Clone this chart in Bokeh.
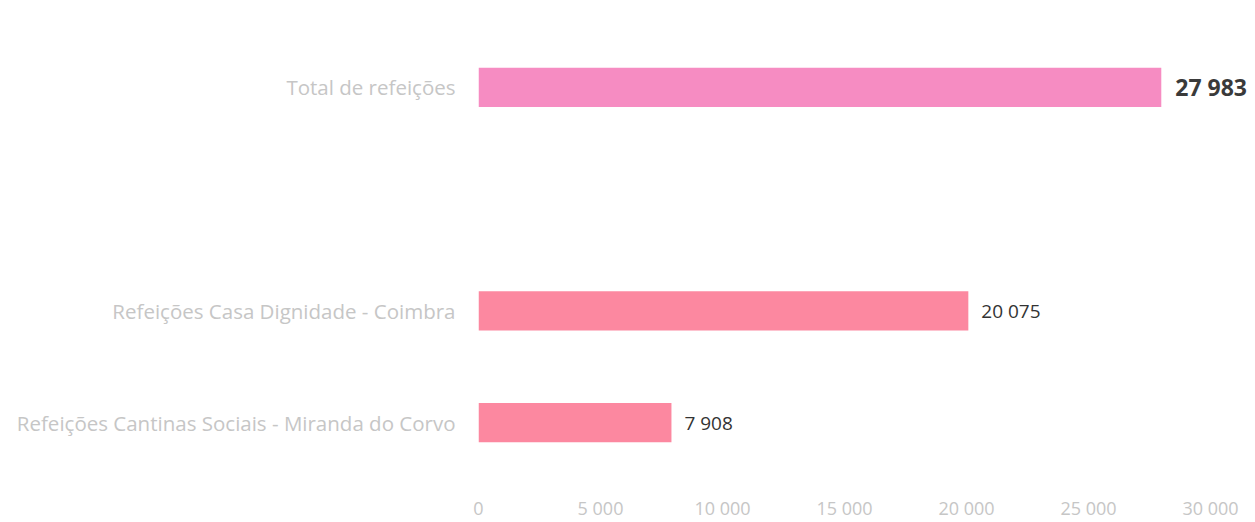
from bokeh.plotting import figure
from bokeh.models import FactorRange, Range1d, FixedTicker, ColumnDataSource
from bokeh.core.properties import value
from bokeh.embed import file_html
from bokeh.resources import INLINE

# data
categories = ["Total de refeições", " ", "Refeições Casa Dignidade - Coimbra",
              "Refeições Cantinas Sociais - Miranda do Corvo"]
bar_categories = ["Total de refeições", "Refeições Casa Dignidade - Coimbra",
                  "Refeições Cantinas Sociais - Miranda do Corvo"]
bar_values = [27983, 20075, 7908]
bar_labels = ["27 983", "20 075", "7 908"]
bar_colors = ["#F68CC2", "#FC88A0", "#FC88A0"]
tick_values = [0, 5000, 10000, 15000, 20000, 25000, 30000]
tick_labels = ["0", "5 000", "10 000", "15 000", "20 000", "25 000", "30 000"]

p = figure(width=1255, height=522, output_backend="svg", toolbar_location=None,
           y_range=FactorRange(factors=list(reversed(categories))),
           x_range=Range1d(0, 31844),
           min_border_left=478, min_border_right=0, min_border_top=31, min_border_bottom=42)
p.outline_line_color = None
p.xgrid.grid_line_color = None
p.ygrid.grid_line_color = None

src = ColumnDataSource(dict(cat=bar_categories, val=bar_values, lab=bar_labels, col=bar_colors))
p.hbar(y="cat", right="val", left=0, height=0.35, fill_color="col", line_color=None, source=src)

total_src = ColumnDataSource(dict(cat=bar_categories[:1], val=bar_values[:1], lab=bar_labels[:1]))
rest_src = ColumnDataSource(dict(cat=bar_categories[1:], val=bar_values[1:], lab=bar_labels[1:]))
p.text(x="val", y="cat", text="lab", source=total_src, x_offset=14,
       text_baseline="middle", text_font=value("Open Sans"), text_font_size="23px",
       text_font_style="bold", text_color="#3a3a3a")
p.text(x="val", y="cat", text="lab", source=rest_src, x_offset=13,
       text_baseline="middle", text_font=value("Open Sans"), text_font_size="19px",
       text_color="#333333")

p.xaxis.ticker = FixedTicker(ticks=tick_values)
p.xaxis.major_label_overrides = {v: l for v, l in zip(tick_values, tick_labels)}
for ax in (p.xaxis, p.yaxis):
    ax.axis_line_color = None
    ax.major_tick_line_color = None
    ax.minor_tick_line_color = None
    ax.major_label_text_font = "Open Sans"
    ax.major_label_text_color = "#c6c6c6"
p.xaxis.major_label_text_font_size = "18px"
p.xaxis.major_label_standoff = 11
p.yaxis.major_label_text_font_size = "20.5px"
p.yaxis.major_label_standoff = 17

open("out.html", "w").write(file_html(p, INLINE))
